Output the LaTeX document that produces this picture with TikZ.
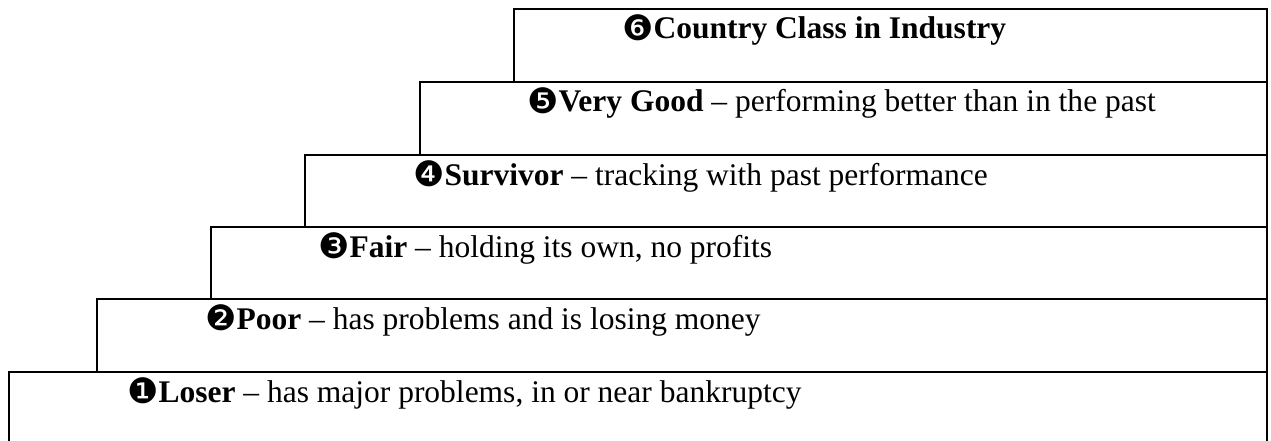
\documentclass[tikz,border=0pt]{standalone}
\usepackage{fontspec}
\setmainfont{Liberation Serif}
\newfontfamily\dingfont{DejaVu Sans}
\newcommand\circnum[1]{{\dingfont\fontsize{35}{38}\selectfont\raisebox{-1.5pt}{#1}}}
\begin{document}
\begin{tikzpicture}[x=1pt,y=-1pt]
\tikzset{
  stepline/.style={line width=1.8pt, line join=miter},
  lbl/.style={anchor=base west, inner sep=0pt, font=\fontsize{31.5}{36}\selectfont}
}
\useasboundingbox (0,0) rectangle (1271,441);
% right edge
\coordinate (R) at (1267,441);
% step outlines
\draw[stepline] (514,82) -- (514,9) -- (1267,9) -- (R);
\draw[stepline] (420,155) -- (420,82) -- (1267,82);
\draw[stepline] (305,227) -- (305,155) -- (1267,155);
\draw[stepline] (211,299) -- (211,227) -- (1267,227);
\draw[stepline] (97,372) -- (97,299) -- (1267,299);
\draw[stepline] (9,441) -- (9,372) -- (1267,372);
% labels
\node[lbl] (l6) at (622,39) {\circnum{❻}\textbf{Country Class in Industry}};
\node[lbl] (l5) at (527,112) {\circnum{❺}\textbf{Very Good} – performing better than in the past};
\node[lbl] (l4) at (413,185) {\circnum{❹}\textbf{Survivor} – tracking with past performance};
\node[lbl] (l3) at (318,257) {\circnum{❸}\textbf{Fair} – holding its own, no profits};
\node[lbl] (l2) at (205,329) {\circnum{❷}\textbf{Poor} – has problems and is losing money};
\node[lbl] (l1) at (127,402) {\circnum{❶}\textbf{Loser} – has major problems, in or near bankruptcy};
\end{tikzpicture}
\end{document}
